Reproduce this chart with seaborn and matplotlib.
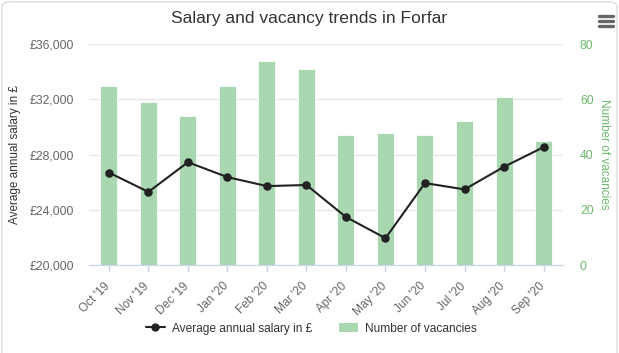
import matplotlib
matplotlib.use('Agg')
import matplotlib.pyplot as plt
import matplotlib.transforms as mtransforms
import seaborn as sns
from matplotlib.lines import Line2D
from matplotlib.patches import Patch, FancyBboxPatch

months = ["Oct '19", "Nov '19", "Dec '19", "Jan '20", "Feb '20", "Mar '20",
          "Apr '20", "May '20", "Jun '20", "Jul '20", "Aug '20", "Sep '20"]
vacancies = [65, 59, 54, 65, 74, 71, 47, 48, 47, 52, 61, 45]
salary = [26700, 25300, 27450, 26370, 25720, 25800, 23480, 21950, 25940, 25480, 27120, 28540]

sal_ticks = [20000, 24000, 28000, 32000, 36000]
vac_ticks = [0, 20, 40, 60, 80]

bar_color = '#a8d7b0'
green_text = '#6cb96c'
axis_color = '#ccd6eb'

sns.set_style('white')
plt.rcParams['font.family'] = ['Liberation Sans', 'DejaVu Sans']

fig = plt.figure(figsize=(6.19, 3.53), dpi=100)
ax = fig.add_axes([0.144, 0.249, 0.766, 0.626])

# bars go on the primary axes so the line sits on top
sns.barplot(x=months, y=vacancies, ax=ax, color=bar_color, width=0.43,
            saturation=1, edgecolor='white', linewidth=0.6, zorder=2)
ax.set_ylim(0, 80)
ax.set_axisbelow(True)
ax.grid(axis='y', color='#e6e6e6', linewidth=1)

ax2 = ax.twinx()
sns.pointplot(x=months, y=salary, ax=ax2, color='#222222', markers='o',
              markersize=5, linewidth=1.5)
ax2.set_ylim(20000, 36000)
ax2.set_xlim(-0.5, len(months) - 0.5)

# swap sides: salary on the left, vacancies on the right
ax.set_yticks(vac_ticks)
ax.yaxis.tick_right()
ax.yaxis.set_label_position('right')
ax.set_ylabel('Number of vacancies', color=green_text, fontsize=8.5,
              rotation=270, labelpad=12)
ax.tick_params(axis='y', colors=green_text, labelsize=8.8, length=0, pad=12,
               left=False, labelleft=False, right=True, labelright=True)

ax2.set_yticks(sal_ticks)
ax2.set_yticklabels([f'£{v:,}' for v in sal_ticks])
ax2.yaxis.tick_left()
ax2.yaxis.set_label_position('left')
ax2.set_ylabel('Average annual salary in £', color='#333333', fontsize=8.5,
               labelpad=6)
ax2.tick_params(axis='y', colors='#666666', labelsize=8.8, length=0, pad=11,
                right=False, labelright=False, left=True, labelleft=True)

for a in (ax, ax2):
    for side in ['left', 'right', 'top']:
        a.spines[side].set_visible(False)
    a.spines['bottom'].set_color(axis_color)
    a.set_xlabel('')

ax.set_xticks(range(len(months)))
ax.set_xticklabels(months, rotation=45, ha='right', rotation_mode='anchor')
ax.tick_params(axis='x', colors=axis_color, length=5, width=1, labelsize=8.6,
               labelcolor='#666666', bottom=True, pad=3)
ax2.tick_params(axis='x', bottom=False, labelbottom=False)
# nudge the slanted labels so they end just left of their tick
shift = mtransforms.ScaledTranslation(-5 / 100, -4 / 100, fig.dpi_scale_trans)
for lab in ax.get_xticklabels():
    lab.set_transform(lab.get_transform() + shift)

fig.text(0.5, 0.948, 'Salary and vacancy trends in Forfar', ha='center',
         va='center', fontsize=12.6, color='#333333')

# menu icon
for yy in (0.955, 0.941, 0.927):
    fig.add_artist(Line2D([0.967, 0.99], [yy, yy], color='#666666',
                          linewidth=2.4, transform=fig.transFigure))

# outer frame
fig.add_artist(FancyBboxPatch((0.003, -0.05), 0.994, 1.045,
                              boxstyle='round,pad=0,rounding_size=0.015',
                              transform=fig.transFigure, fill=False,
                              edgecolor='#dddddd', linewidth=1))

handles = [Line2D([], [], color='#222222', marker='o', markersize=5,
                  linewidth=1.5),
           Patch(facecolor=bar_color, edgecolor='none')]
fig.legend(handles, ['Average annual salary in £', 'Number of vacancies'],
           loc='center', bbox_to_anchor=(0.503, 0.069), ncol=2, frameon=False,
           fontsize=8.6, labelcolor='#333333', handlelength=1.6,
           columnspacing=2.2, handletextpad=0.6)

fig.savefig('out.png', dpi=100)
